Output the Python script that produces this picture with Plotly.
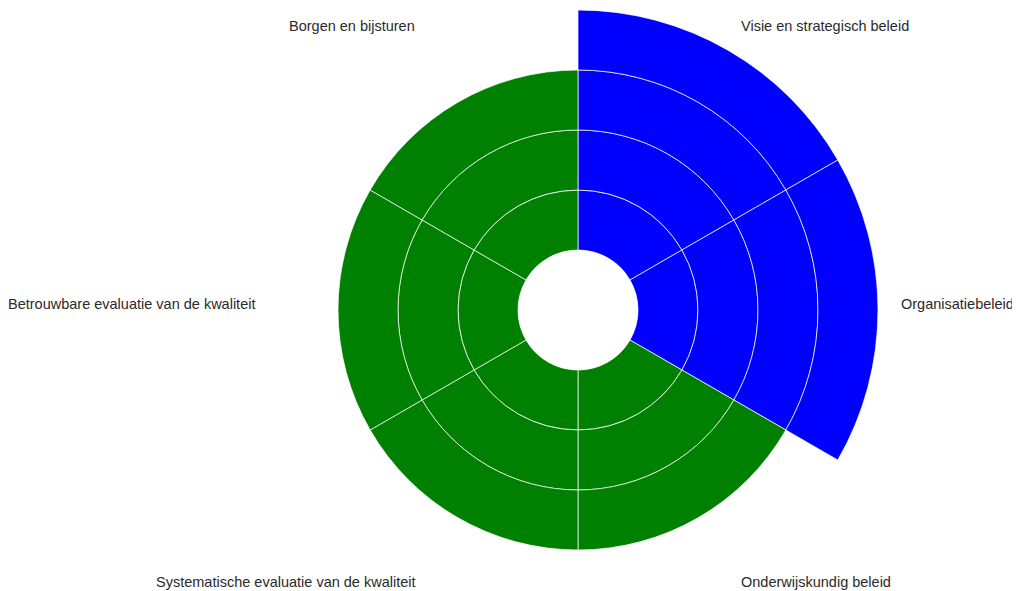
import math
import plotly.graph_objects as go

categories = [
    "Visie en strategisch beleid",
    "Organisatiebeleid",
    "Onderwijskundig beleid",
    "Systematische evaluatie van de kwaliteit",
    "Betrouwbare evaluatie van de kwaliteit",
    "Borgen en bijsturen",
]
scores = [4, 4, 3, 3, 3, 3]
sector_colors = ["#0000ff", "#0000ff", "#008000", "#008000", "#008000", "#008000"]
levels = [1, 2, 3, 4]

fig = go.Figure()
for lvl in levels:
    cats = [c for c, s in zip(categories, scores) if s >= lvl]
    cols = [col for col, s in zip(sector_colors, scores) if s >= lvl]
    fig.add_trace(go.Barpolar(
        r=[1] * len(cats),
        theta=cats,
        marker=dict(color=cols, line=dict(color="rgba(255,255,255,0.7)", width=1)),
        width=[1] * len(cats),
        showlegend=False,
        hoverinfo="skip",
    ))

W, H = 1012, 610
mt, mb = 2, 8
R = (H - mt - mb) / 2
cx = 570
cy = mt + R
n = len(categories)
step = 360 / n

# category labels placed around the chart
label_r = 321
label_dy = -6
annotations = []
for i, cat in enumerate(categories):
    a = math.radians(step * i + step / 2)
    px = cx + label_r * math.sin(a)
    py = cy + label_dy - label_r * math.cos(a)
    s = math.sin(a)
    xa = "left" if s > 0.01 else ("right" if s < -0.01 else "center")
    annotations.append(dict(
        x=px / W, y=1 - (py - mt) / (H - mt - mb),
        xref="paper", yref="paper",
        text=cat, showarrow=False,
        xanchor=xa, yanchor="middle",
        font=dict(size=14.5, color="#2a2a2a"),
    ))

fig.update_layout(
    width=W, height=H,
    margin=dict(l=0, r=0, t=mt, b=mb),
    paper_bgcolor="white",
    plot_bgcolor="white",
    font=dict(family="Liberation Sans, Arial, sans-serif", size=14.5, color="#2a2a2a"),
    annotations=annotations,
    polar=dict(
        domain=dict(x=[(cx - R) / W, (cx + R) / W], y=[0, 1]),
        bgcolor="white",
        hole=0.2,
        barmode="stack",
        bargap=0,
        radialaxis=dict(visible=False, range=[0, 4]),
        angularaxis=dict(
            type="category",
            categoryorder="array",
            categoryarray=categories,
            direction="clockwise",
            rotation=90 - step / 2,
            showgrid=False,
            showline=False,
            ticks="",
            showticklabels=False,
        ),
    ),
)
fig.write_html("out.html")
